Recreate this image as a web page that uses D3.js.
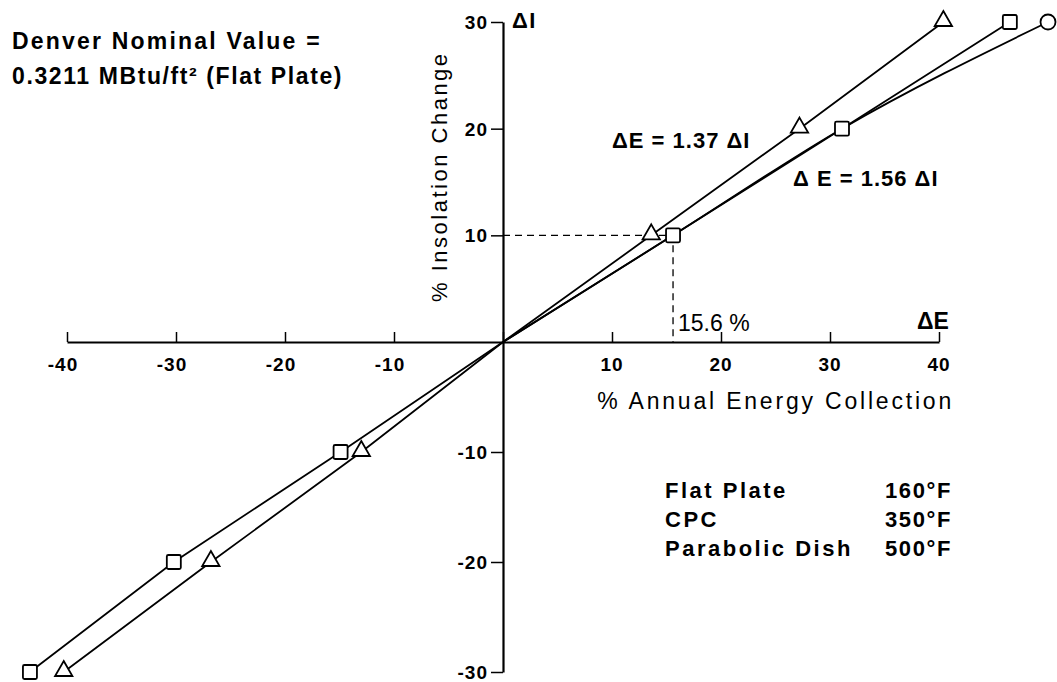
<!DOCTYPE html>
<meta charset="utf-8">
<head>
	<style type="text/css">
		body { margin: 0; background: #fff; }
		text { font-family: "Liberation Sans", Arial, sans-serif; fill: #000; }
		.tick-label { font-weight: bold; font-size: 19px; letter-spacing: 1px; }
		.note { font-weight: bold; font-size: 22px; letter-spacing: 1.5px; }
		.axis-title { font-size: 22px; letter-spacing: 2.5px; }
		.series { fill: none; stroke: #000; stroke-width: 1.8; }
		.marker { fill: #fff; stroke: #000; stroke-width: 1.8; }
	</style>
	<title>Insolation vs Energy Collection</title>
</head>
<script src="https://cdn.jsdelivr.net/npm/d3@7"></script>
<svg width="1057" height="682" id="svg1"></svg>

<script>
	// values
	const xTicks = [-40, -30, -20, -10, 10, 20, 30, 40];
	const yTicks = [-30, -20, -10, 10, 20, 30];

	const insolation = [-30, -20, -10, 0, 10, 20, 30];          // % insolation change (dI)
	const triangleE = [-40.3, -26.8, -13.0, 0, 13.6, 27.2, 40.4];  // dE = 1.37 dI
	const squareE = [-43.4, -30.2, -14.9, 0, 15.6, 31.1, 46.5];    // dE = 1.56 dI
	const circleI = [0, 10, 20, 30];
	const circleE = [0, 15.6, 31.1, 50.0];

	const guideI = 10;
	const guideE = 15.6;

	const legendNames = ["Flat Plate", "CPC", "Parabolic Dish"];
	const legendTemps = ["160°F", "350°F", "500°F"];

	const svg1 = d3.select('#svg1');

	const xScale = d3.scaleLinear().domain([-40, 40]).range([67, 939]);
	const yScale = d3.scaleLinear().domain([-30, 0, 30]).range([672, 342, 22]);

	const x0 = xScale(0), y0 = yScale(0);

	// horizontal axis, ticks pointing up
	const xAxis = d3.axisTop(xScale).tickValues([-40, -30, -20, -10, 0, 10, 20, 30, 40])
		.tickSize(10).tickSizeOuter(0).tickFormat('');
	svg1.append('g').attr('transform', `translate(0,${y0})`).call(xAxis)
		.call(g => g.select('.domain').attr('stroke-width', 2.2))
		.call(g => g.selectAll('.tick line').attr('stroke-width', 1.5));

	svg1.append('g').selectAll('text').data(xTicks).enter().append('text')
		.attr('class', 'tick-label')
		.attr('x', d => xScale(d) + (d < 0 ? -4 : 0))
		.attr('y', y0 + 29)
		.attr('text-anchor', 'middle')
		.text(d => d);

	// vertical axis, ticks pointing left
	const yAxis = d3.axisLeft(yScale).tickValues(yTicks)
		.tickSize(12).tickSizeOuter(0).tickFormat('');
	svg1.append('g').attr('transform', `translate(${x0},0)`).call(yAxis)
		.call(g => g.select('.domain').attr('stroke-width', 2.2))
		.call(g => g.selectAll('.tick line').attr('stroke-width', 1.5));

	svg1.append('g').selectAll('text').data(yTicks).enter().append('text')
		.attr('class', 'tick-label')
		.attr('x', x0 - 15)
		.attr('y', d => yScale(d) + 7)
		.attr('text-anchor', 'end')
		.text(d => d);

	// axis titles
	svg1.append('text').attr('class', 'axis-title')
		.attr('transform', `translate(447,${yScale(15.5)}) rotate(-90)`)
		.attr('text-anchor', 'middle')
		.text('% Insolation Change');

	svg1.append('text').attr('class', 'axis-title')
		.attr('x', 954).attr('y', y0 + 67)
		.attr('text-anchor', 'end')
		.style('font-size', '23px').style('letter-spacing', '2.8px')
		.text('% Annual Energy Collection');

	svg1.append('text').attr('class', 'note')
		.attr('x', x0 + 9).attr('y', 28)
		.style('font-size', '22px')
		.text('ΔI');

	svg1.append('text')
		.attr('x', 917).attr('y', y0 - 13)
		.style('font-size', '23px').style('font-weight', 'bold')
		.text('ΔE');

	// dashed guide lines at dI = 10
	svg1.append('path')
		.attr('d', `M${x0},${yScale(guideI)}H${xScale(guideE)}V${y0}`)
		.attr('fill', 'none').attr('stroke', '#000').attr('stroke-width', 1.3)
		.attr('stroke-dasharray', '7,5');

	svg1.append('text')
		.attr('x', xScale(guideE) + 5).attr('y', y0 - 11)
		.style('font-size', '23px')
		.text('15.6 %');

	// series lines
	const line = d3.line().x(d => xScale(d[0])).y(d => yScale(d[1]));
	const triData = triangleE.map((e, i) => [e, insolation[i]]);
	const sqData = squareE.map((e, i) => [e, insolation[i]]);
	const circData = circleE.map((e, i) => [e, circleI[i]]);

	svg1.append('path').attr('class', 'series')
		.attr('d', line.curve(d3.curveMonotoneX)(circData));
	svg1.append('path').attr('class', 'series')
		.attr('d', line.curve(d3.curveLinear)(triData));
	svg1.append('path').attr('class', 'series')
		.attr('d', line.curve(d3.curveLinear)(sqData));

	// markers (skip the origin)
	svg1.append('g').selectAll('circle').data(circData.slice(-1)).enter().append('circle')
		.attr('class', 'marker')
		.attr('cx', d => xScale(d[0])).attr('cy', d => yScale(d[1])).attr('r', 7.5);

	const triSym = d3.symbol().type(d3.symbolTriangle).size(130);
	svg1.append('g').selectAll('path').data(triData.filter(d => d[1] !== 0)).enter().append('path')
		.attr('class', 'marker')
		.attr('transform', d => `translate(${xScale(d[0])},${yScale(d[1]) - 1})`)
		.attr('d', triSym);

	svg1.append('g').selectAll('rect').data(sqData.filter(d => d[1] !== 0)).enter().append('rect')
		.attr('class', 'marker')
		.attr('x', d => xScale(d[0]) - 7).attr('y', d => yScale(d[1]) - 7)
		.attr('width', 14).attr('height', 14).attr('rx', 1.5);

	// annotations
	svg1.append('text').attr('class', 'note').attr('x', 612).attr('y', 148)
		.style('letter-spacing', '1px').text('ΔE = 1.37 ΔI');
	svg1.append('text').attr('class', 'note').attr('x', 793).attr('y', 186)
		.style('letter-spacing', '1px').text('Δ E = 1.56 ΔI');

	svg1.append('text').attr('class', 'note').attr('x', 12).attr('y', 49)
		.style('font-size', '23px').style('letter-spacing', '2.2px')
		.text('Denver Nominal Value =');
	svg1.append('text').attr('class', 'note').attr('x', 12).attr('y', 84)
		.style('font-size', '23px').style('letter-spacing', '1.6px')
		.text('0.3211 MBtu/ft² (Flat Plate)');

	// temperature legend
	const leg = svg1.append('g').selectAll('g').data(legendNames).enter().append('g')
		.attr('transform', (d, i) => `translate(0,${498 + i * 29})`);
	leg.append('text').attr('class', 'note').attr('x', 665).attr('y', 0)
		.style('letter-spacing', '2.5px').text(d => d);
	leg.append('text').attr('class', 'note').attr('x', 885).attr('y', 0)
		.style('letter-spacing', '1.6px').text((d, i) => legendTemps[i]);
</script>
